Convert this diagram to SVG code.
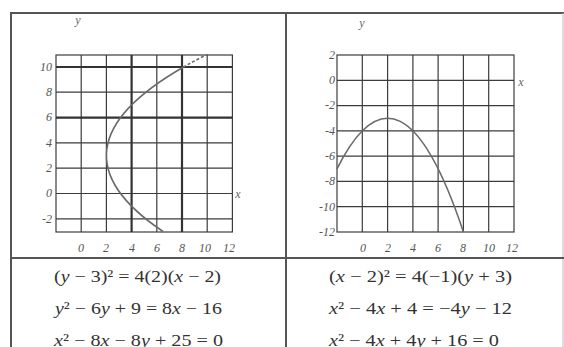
<svg xmlns="http://www.w3.org/2000/svg" width="564" height="347" viewBox="0 0 564 347">
<style>
.frame{stroke:#555;stroke-width:2;fill:none}
.grid{stroke:#3c3c3c;stroke-width:1.2;fill:none}
.thick{stroke:#333;stroke-width:2.2;fill:none}
.curve{stroke:#6a6a6a;stroke-width:1.6;fill:none}
.dash{stroke:#6a6a6a;stroke-width:1.6;fill:none;stroke-dasharray:3 2}
.tick{font-family:"Liberation Serif",serif;font-style:italic;font-size:12px;fill:#555}
.ax{font-family:"Liberation Serif",serif;font-style:italic;font-size:12px;fill:#666}
.eq{font-family:"Liberation Serif",serif;font-size:17px;fill:#333}
.v{font-style:italic}
</style>
<rect width="564" height="347" fill="#fff"/>
<g id="table">
<line class="frame" x1="11" y1="13" x2="564" y2="13"/>
<line class="frame" x1="11" y1="12" x2="11" y2="347"/>
<line class="frame" x1="286" y1="13" x2="286" y2="347"/>
<line class="frame" x1="563" y1="13" x2="563" y2="347" style="stroke:#bbb;stroke-width:1"/>
<line class="frame" x1="11" y1="258" x2="564" y2="258"/>
</g>
<g id="graph-left">
<rect class="grid" x="56" y="55" width="176.4" height="177"/>
<path class="grid" d="M81.2 55V232M106.4 55V232M156.8 55V232M207.2 55V232M56 92.2H232.4M56 142.9H232.4M56 168.2H232.4M56 193.5H232.4M56 218.8H232.4"/>
<path class="thick" d="M131.6 55V232M182 55V232M56 67H232.4M56 117.6H232.4"/>
<path class="curve" d="M163.1 231.5Q40.25 149.2 183.6 67"/>
<path class="dash" d="M183.6 67Q194.6 60.7 207.2 54.4"/>
<text class="ax" x="78" y="24" text-anchor="middle">y</text>
<text class="ax" x="238" y="198" text-anchor="middle">x</text>
<g class="tick" text-anchor="end">
<text x="52" y="71">10</text><text x="52" y="96">8</text><text x="52" y="121">6</text><text x="52" y="147">4</text><text x="52" y="172">2</text><text x="52" y="197">0</text><text x="52" y="223">-2</text>
</g>
<g class="tick" text-anchor="middle">
<text x="81" y="252">0</text><text x="106" y="252">2</text><text x="132" y="252">4</text><text x="157" y="252">6</text><text x="182" y="252">8</text><text x="205" y="252">10</text><text x="229" y="252">12</text>
</g>
</g>
<g id="graph-right">
<rect class="grid" x="337" y="55" width="177" height="177"/>
<path class="grid" d="M362.3 55V232M387.6 55V232M412.9 55V232M438.1 55V232M463.4 55V232M488.7 55V232M337 80.3H514M337 105.6H514M337 130.9H514M337 156.1H514M337 181.4H514M337 206.7H514"/>
<path class="curve" d="M337 168.8Q400.2 42.4 463.4 232"/>
<text class="ax" x="362" y="27" text-anchor="middle">y</text>
<text class="ax" x="521" y="86" text-anchor="middle">x</text>
<g class="tick" text-anchor="end">
<text x="335" y="59">2</text><text x="335" y="84">0</text><text x="335" y="109">-2</text><text x="335" y="135">-4</text><text x="335" y="160">-6</text><text x="335" y="185">-8</text><text x="335" y="211">-10</text><text x="335" y="236">-12</text>
</g>
<g class="tick" text-anchor="middle">
<text x="363" y="252">0</text><text x="388" y="252">2</text><text x="413" y="252">4</text><text x="438" y="252">6</text><text x="463" y="252">8</text><text x="489" y="252">10</text><text x="512" y="252">12</text>
</g>
</g>
<g id="equations-left" class="eq">
<text x="54" y="282" textLength="167" lengthAdjust="spacingAndGlyphs">(<tspan class="v">y</tspan> − 3)² = 4(2)(<tspan class="v">x</tspan> − 2)</text>
<text x="55" y="314" textLength="167" lengthAdjust="spacingAndGlyphs"><tspan class="v">y</tspan>² − 6<tspan class="v">y</tspan> + 9 = 8<tspan class="v">x</tspan> − 16</text>
<text x="54" y="346" textLength="169" lengthAdjust="spacingAndGlyphs"><tspan class="v">x</tspan>² − 8<tspan class="v">x</tspan> − 8<tspan class="v">y</tspan> + 25 = 0</text>
</g>
<g id="equations-right" class="eq">
<text x="329" y="282" textLength="183" lengthAdjust="spacingAndGlyphs">(<tspan class="v">x</tspan> − 2)² = 4(−1)(<tspan class="v">y</tspan> + 3)</text>
<text x="329" y="314" textLength="183" lengthAdjust="spacingAndGlyphs"><tspan class="v">x</tspan>² − 4<tspan class="v">x</tspan> + 4 = −4<tspan class="v">y</tspan> − 12</text>
<text x="329" y="346" textLength="170" lengthAdjust="spacingAndGlyphs"><tspan class="v">x</tspan>² − 4<tspan class="v">x</tspan> + 4<tspan class="v">y</tspan> + 16 = 0</text>
</g>
</svg>
